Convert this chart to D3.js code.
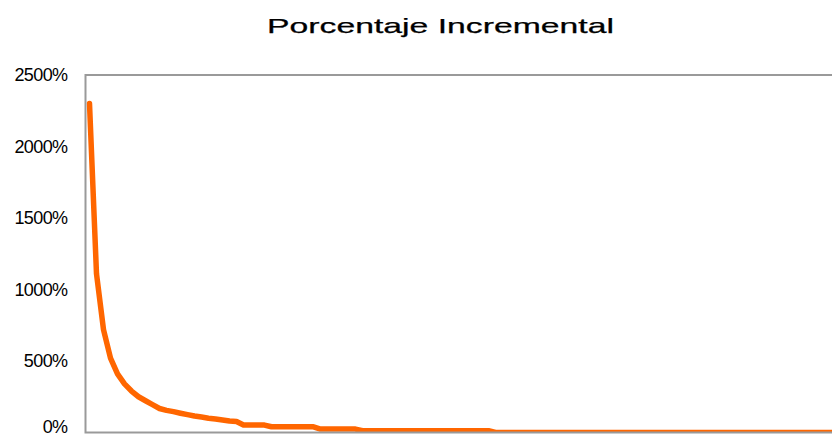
<!DOCTYPE html>
<html>
<head>
<meta charset="utf-8">
<script src="https://cdn.jsdelivr.net/npm/d3@7"></script>
<style>
  html, body { margin: 0; padding: 0; background: #fff; }
  svg { display: block; }
</style>
</head>
<body>
<svg id="chart" width="832" height="437"></svg>
<script>
// Incremental percentage per period (value in %)
const periods = d3.range(108);
const incremental = [
  2300, 1110, 720, 520, 410, 340, 290, 250, 222, 195,
  168, 155, 146, 135, 125, 115, 108, 100, 95, 88,
  80, 77, 52, 52, 52, 52, 40, 40, 40, 40,
  40, 40, 40, 24, 24, 24, 24, 24, 24, 12,
  12, 12, 12, 12, 12, 12, 12, 12, 12, 12,
  12, 12, 12, 12, 12, 12, 12, 12, 0, 0,
  0, 0, 0, 0, 0, 0, 0, 0, 0, 0,
  0, 0, 0, 0, 0, 0, 0, 0, 0, 0,
  0, 0, 0, 0, 0, 0, 0, 0, 0, 0,
  0, 0, 0, 0, 0, 0, 0, 0, 0, 0,
  0, 0, 0, 0, 0, 0, 0, 0
];
const yTicks = [0, 500, 1000, 1500, 2000, 2500];
const titleText = "Porcentaje Incremental";

const svg = d3.select("#chart");
const plot = { left: 85.5, top: 75, right: 842, bottom: 432.5 };

const x = d3.scaleLinear()
  .domain([0, periods.length - 1])
  .range([plot.left + 4, plot.left + 4 + 7 * (periods.length - 1)]);
const y = d3.scaleLinear()
  .domain([0, 2500])
  .range([plot.bottom, plot.top]);

// Title
svg.append("text")
  .attr("x", 440.5)
  .attr("y", 33)
  .attr("text-anchor", "middle")
  .attr("font-family", "Liberation Sans, Arial, sans-serif")
  .attr("font-size", 21)
  .attr("textLength", 347)
  .attr("lengthAdjust", "spacingAndGlyphs")
  .attr("fill", "#000")
  .attr("stroke", "#000")
  .attr("stroke-width", 0.25)
  .text(titleText);

// Y axis labels
const yAxis = d3.axisLeft(y)
  .tickValues(yTicks)
  .tickSize(0)
  .tickPadding(18)
  .tickFormat(d => d + "%");
const ya = svg.append("g")
  .attr("transform", `translate(${plot.left},0)`)
  .call(yAxis);
ya.select(".domain").remove();
ya.selectAll("text")
  .attr("font-family", "Liberation Sans, Arial, sans-serif")
  .attr("font-size", 18)
  .attr("fill", "#000")
  .attr("letter-spacing", -0.6);
// keep the bottom label inside the canvas
ya.selectAll(".tick").filter(d => d === 0).select("text")
  .attr("dy", "0em");

// Clip the series to the plot area
svg.append("defs").append("clipPath").attr("id", "plotClip")
  .append("rect")
  .attr("x", plot.left)
  .attr("y", plot.top)
  .attr("width", plot.right - plot.left)
  .attr("height", plot.bottom - plot.top);

const line = d3.line()
  .x((d, i) => x(periods[i]))
  .y(d => y(d));

svg.append("path")
  .datum(incremental)
  .attr("clip-path", "url(#plotClip)")
  .attr("fill", "none")
  .attr("stroke", "#FF6600")
  .attr("stroke-width", 5.5)
  .attr("stroke-linejoin", "round")
  .attr("stroke-linecap", "round")
  .attr("d", line);

// Plot area frame
svg.append("rect")
  .attr("x", plot.left)
  .attr("y", plot.top)
  .attr("width", plot.right - plot.left)
  .attr("height", plot.bottom - plot.top)
  .attr("fill", "none")
  .attr("stroke", "#9a9a9a")
  .attr("stroke-width", 2);
</script>
</body>
</html>
